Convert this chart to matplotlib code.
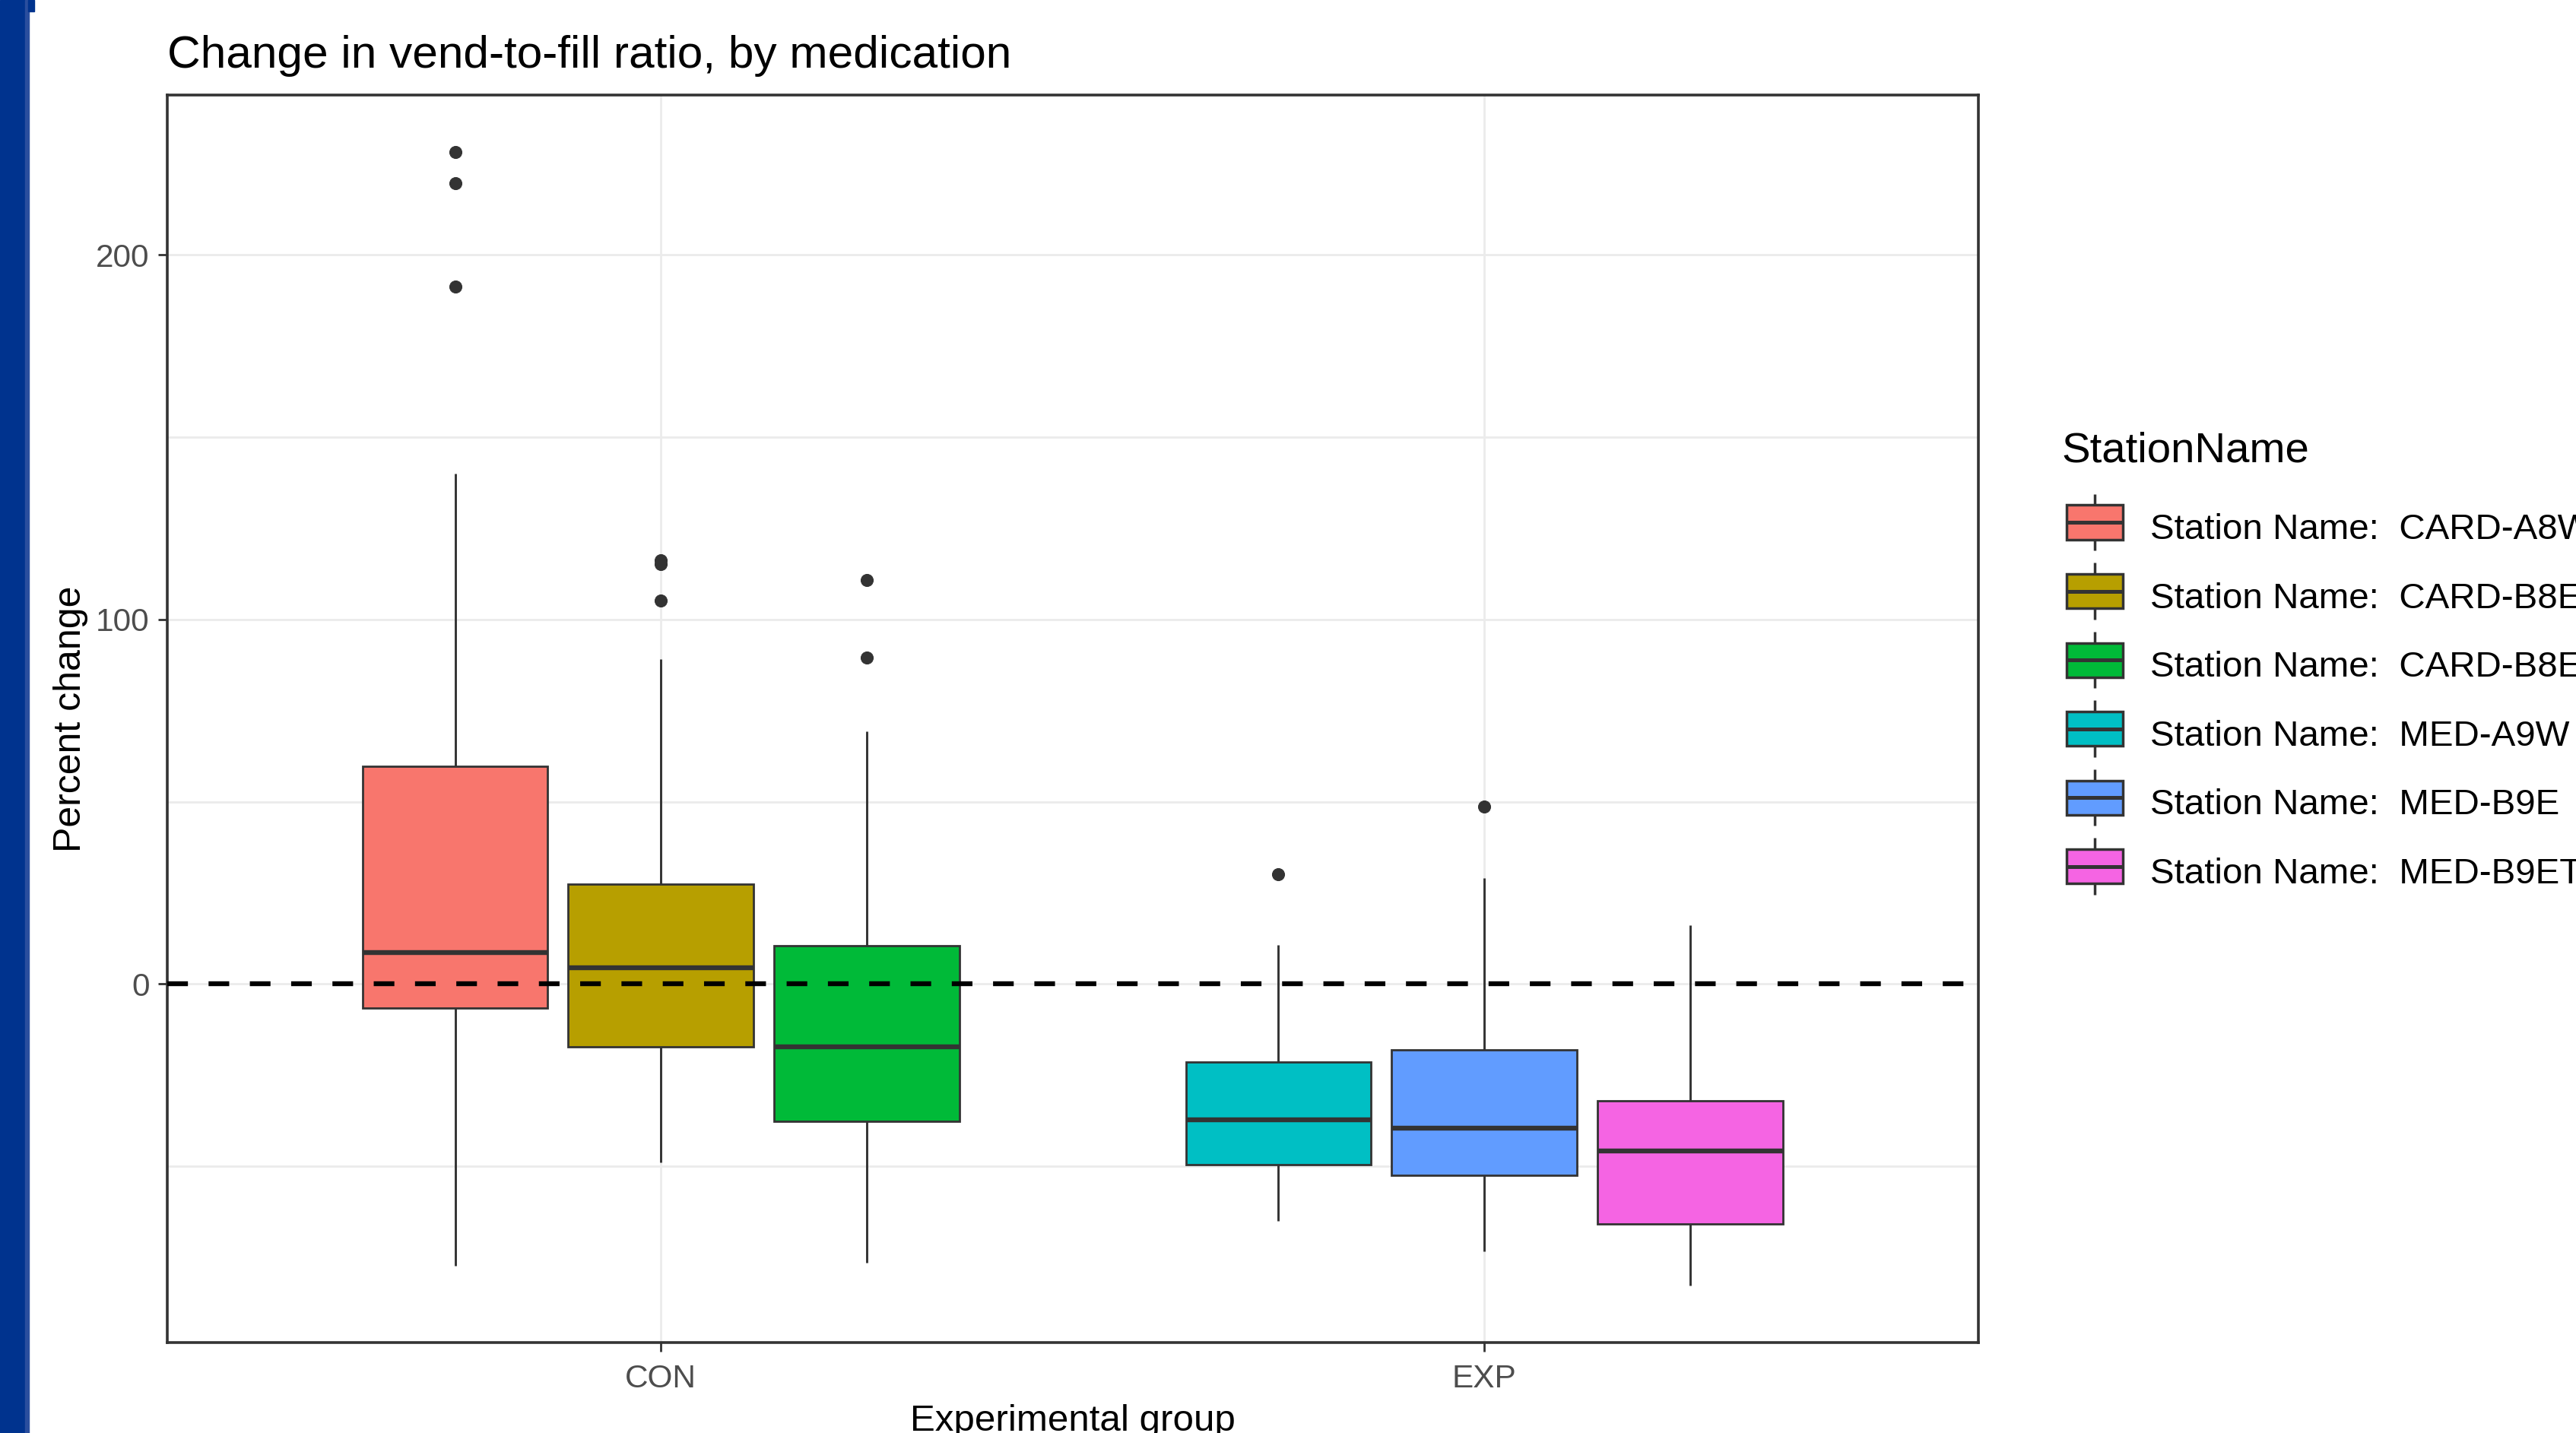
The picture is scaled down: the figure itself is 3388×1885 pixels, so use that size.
import matplotlib
matplotlib.use("Agg")
import matplotlib.pyplot as plt
from matplotlib.patches import Rectangle, Patch
from matplotlib.lines import Line2D
from matplotlib.legend_handler import HandlerBase
from matplotlib.ticker import FixedLocator

plt.rcParams['font.family'] = ['Liberation Sans', 'DejaVu Sans']

# ---------------- data ----------------
groups = ['CON', 'EXP']
stations = ['CARD-A8W', 'CARD-B8E', 'CARD-B8ET', 'MED-A9W', 'MED-B9E', 'MED-B9ET']
station_group = ['CON', 'CON', 'CON', 'EXP', 'EXP', 'EXP']
whisker_low = [-77.3, -48.9, -76.4, -64.9, -73.4, -82.7]
q1 = [-6.6, -17.2, -37.6, -49.6, -52.4, -65.9]
median = [8.6, 4.4, -17.3, -37.3, -39.6, -45.9]
q3 = [59.8, 27.4, 10.4, -21.4, -18.0, -32.1]
whisker_high = [140.1, 89.1, 69.3, 10.7, 29.0, 16.2]
outliers = [[191.3, 219.7, 228.3], [105.1, 115.2, 116.3], [89.5, 110.8], [30.1], [48.6], []]
colors = ['#F8766D', '#B79F00', '#00BA38', '#00BFC4', '#619CFF', '#F564E3']
y_ticks = [0, 100, 200]
reference_line = 0
title = 'Change in vend-to-fill ratio, by medication'
x_label = 'Experimental group'
y_label = 'Percent change'
legend_title = 'StationName'
legend_prefix = 'Station Name:  '

W, H = 3388, 1885
fig = plt.figure(figsize=(W / 100, H / 100), dpi=100)
fig.patch.set_facecolor('white')

# left blue bar (slide edge)
fig.patches.append(Rectangle((0, 0), 33 / W, 1, transform=fig.transFigure, color='#00338E', zorder=0))
fig.patches.append(Rectangle((33 / W, 0), 4.5 / W, 1, transform=fig.transFigure, color='#2A4E9E', zorder=0))
fig.patches.append(Rectangle((37 / W, 1 - 15 / H), 8 / W, 15 / H, transform=fig.transFigure, color='#00338E', zorder=0))

left, right, top, bottom = 219.5, 2602, 125, 1765.5
ax = fig.add_axes([left / W, 1 - bottom / H, (right - left) / W, (bottom - top) / H])

# dodge positions
dodge_total = 0.75
stats = []
positions = []
for i, st in enumerate(stations):
    g = station_group[i]
    members = [k for k, s in enumerate(stations) if station_group[k] == g]
    n = len(members)
    j = members.index(i)
    slot = dodge_total / n
    positions.append(groups.index(g) + 1 + (j - (n - 1) / 2) * slot)
    stats.append(dict(med=median[i], q1=q1[i], q3=q3[i], whislo=whisker_low[i],
                      whishi=whisker_high[i], fliers=outliers[i], label=st))
box_width = dodge_total / 3 * 0.9

bp = ax.bxp(stats, positions=positions, widths=box_width, patch_artist=True,
            showcaps=False, manage_ticks=False,
            boxprops=dict(edgecolor='#333333', linewidth=2.0),
            whiskerprops=dict(color='#333333', linewidth=2.1, solid_capstyle='butt'),
            medianprops=dict(color='#333333', linewidth=4.6, solid_capstyle='butt'),
            flierprops=dict(marker='o', markerfacecolor='#333333', markeredgecolor='#333333',
                            markersize=11.5, markeredgewidth=0.8))
for patch, c in zip(bp['boxes'], colors):
    patch.set_facecolor(c)
    patch.set_zorder(2)
for k in ('whiskers', 'medians', 'fliers'):
    for a in bp[k]:
        a.set_zorder(2.5 if k != 'whiskers' else 1.9)

ax.axhline(reference_line, color='black', linewidth=4.6, linestyle=(0, (4.25, 4.25)), zorder=3)

# scales (ggplot-like expansion)
all_vals = whisker_low + whisker_high + [v for o in outliers for v in o]
lo, hi = min(all_vals), max(all_vals)
pad = 0.05 * (hi - lo)
ax.set_ylim(lo - pad, hi + pad)
ax.set_xlim(0.4, len(groups) + 0.6)

ax.set_yticks(y_ticks)
ax.set_yticklabels([str(t) for t in y_ticks])
minor = [y_ticks[0] - 50] + [t + 50 for t in y_ticks[:-1]] + [y_ticks[-1] - 50 + 0]
ax.yaxis.set_minor_locator(FixedLocator(sorted(set([-50, 50, 150]))))
ax.set_xticks(range(1, len(groups) + 1))
ax.set_xticklabels(groups)

ax.set_axisbelow(True)
ax.yaxis.grid(True, which='major', color='#EBEBEB', linewidth=2.0)
ax.yaxis.grid(True, which='minor', color='#EBEBEB', linewidth=2.0)
ax.xaxis.grid(True, which='major', color='#EBEBEB', linewidth=2.0)

ax.tick_params(axis='both', which='major', length=8.5, width=2.0, color='#333333',
               labelsize=30.5, labelcolor='#4D4D4D')
ax.tick_params(axis='y', which='major', pad=8)
ax.tick_params(axis='x', which='major', pad=12.3)
ax.tick_params(which='minor', length=0)
for s in ax.spines.values():
    s.set_color('#333333')
    s.set_linewidth(2.6)
ax.set_facecolor('white')

# texts
fig.text(left / W, 1 - 89 / H, title, fontsize=43.5, ha='left', va='baseline', color='black')
fig.text(106 / W, 1 - 945.5 / H, y_label, fontsize=36, rotation=90, rotation_mode='anchor',
         ha='center', va='baseline', color='black')
fig.text((left + right) / 2 / W, 1 - 1882 / H, x_label, fontsize=35.5, ha='center', va='baseline', color='black')
fig.text(2711 / W, 1 - 607.5 / H, legend_title, fontsize=40.6, ha='left', va='baseline', color='black')


class BoxKeyHandler(HandlerBase):
    def create_artists(self, legend, orig_handle, xdescent, ydescent, width, height, fontsize, trans):
        cx = -xdescent + width / 2
        cy = 0.472 * fontsize
        hw = 0.785 * fontsize
        hb = 0.474 * fontsize
        wh = Line2D([cx, cx], [cy - hw, cy + hw], color='#333333', lw=2.5,
                    solid_capstyle='butt', transform=trans)
        bx = Rectangle((-xdescent, cy - hb), width, 2 * hb, facecolor=orig_handle.get_facecolor(),
                       edgecolor='#333333', lw=2.5, transform=trans)
        md = Line2D([-xdescent, -xdescent + width], [cy, cy], color='#333333', lw=3.6,
                    solid_capstyle='butt', transform=trans)
        return [wh, bx, md]


handles = [Patch(facecolor=c, edgecolor='#333333') for c in colors]
labels = [legend_prefix + s for s in stations]
fig.legend(handles, labels, loc='upper left', bbox_to_anchor=(2718 / W, 1 - 671.9 / H),
           bbox_transform=fig.transFigure, frameon=False, borderpad=0, borderaxespad=0,
           handlelength=1.558, handleheight=1.0, handletextpad=0.76, labelspacing=0.905,
           prop={'size': 34.2}, handler_map={Patch: BoxKeyHandler()})

fig.savefig('out.png', dpi=100)
